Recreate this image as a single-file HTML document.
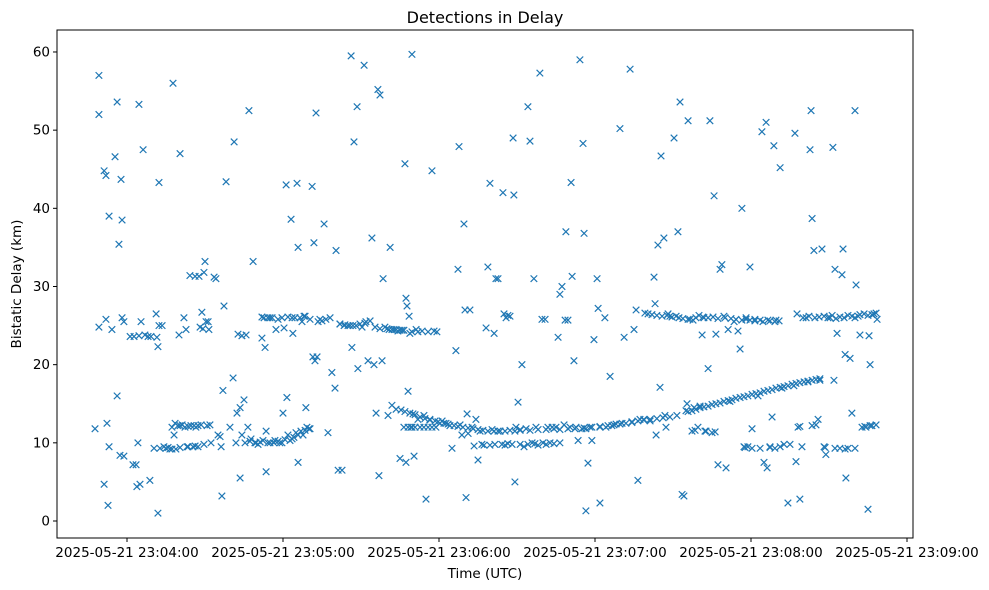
<!DOCTYPE html>
<html>
<head>
<meta charset="utf-8">
<style>
  html,body{margin:0;padding:0;background:#fff;}
  svg{display:block;font-family:"DejaVu Sans","Liberation Sans",sans-serif;}
</style>
</head>
<body>
<svg id="chart" width="989" height="590" viewBox="0 0 989 590" xmlns="http://www.w3.org/2000/svg">
  <rect x="0" y="0" width="989" height="590" fill="#fff"/>
  <text x="485" y="23" text-anchor="middle" font-size="16" fill="#000">Detections in Delay</text>
  <text x="485" y="578" text-anchor="middle" font-size="13.5" fill="#000">Time (UTC)</text>
  <text transform="translate(21,284) rotate(-90)" text-anchor="middle" font-size="13.5" fill="#000">Bistatic Delay (km)</text>
  <g id="marks"></g>
  <g id="axes"></g>
</svg>
<script>
// Times are seconds after 2025-05-21 23:04:00 UTC; delays in km.
const xTickSeconds = [0, 60, 120, 180, 240, 300];
const xTickLabels = ["2025-05-21 23:04:00","2025-05-21 23:05:00","2025-05-21 23:06:00","2025-05-21 23:07:00","2025-05-21 23:08:00","2025-05-21 23:09:00"];
const yTickValues = [0, 10, 20, 30, 40, 50, 60];
const yTickLabels = ["0","10","20","30","40","50","60"];

const scatterLeft = [[-12.3,11.8],[-10.8,57],[-10.8,52],[-10.8,24.8],[-8.8,4.7],[-8.8,44.8],[-8.1,44.2],[-8.1,25.8],[-7.7,12.5],[-7.3,2],[-6.9,39],[-6.9,9.5],[-5.8,24.5],[-4.6,46.6],[-3.8,53.6],[-3.8,16],[-3.1,35.4],[-2.7,8.4],[-2.3,43.7],[-1.9,38.5],[-1.9,26],[-1.2,25.5],[-1.2,8.3],[1.2,23.6],[2.3,7.2],[2.7,23.6],[3.5,7.2],[3.8,4.4],[4.2,10],[4.6,53.3],[4.6,23.7],[5,4.7],[5.4,25.5],[6.2,47.5],[6.9,23.8],[8.1,23.6],[8.8,5.2],[9.2,23.6],[10.4,9.3],[11.2,26.5],[11.5,23.5],[11.9,22.3],[11.9,1],[12.3,43.3],[12.3,25],[12.7,9.3],[13.5,25],[14.2,9.5],[15.8,9.4],[16.5,9.2],[17.3,12],[17.7,56],[18.1,11],[18.5,12.5],[18.8,9.2],[19.6,12.2],[20,23.8],[20.4,47],[21.2,12.3],[21.9,26],[22.3,12],[22.7,24.5],[23.5,9.5],[24.2,31.4],[24.6,12.2],[25.4,9.5],[26.2,31.3],[26.5,12],[27.3,9.5],[27.7,31.3],[28.1,24.8],[28.5,12.3],[28.8,26.7],[29.2,24.6],[29.6,9.8],[29.6,31.8],[30,33.2],[30.4,25.5],[30.8,12.2],[31.2,25.5],[31.5,24.5],[31.9,12.3],[32.3,10],[33.5,31.2],[34.2,31],[35,11],[35.8,10.8],[36.2,9.5],[36.5,3.2],[36.9,16.7],[37.3,27.5],[38.1,43.4],[39.6,12],[40.8,18.3],[41.2,48.5],[41.9,10],[42.3,13.8],[42.7,23.9],[43.5,14.5],[43.5,5.5],[44.2,23.7],[44.2,11],[45,15.5],[45.8,23.8],[46.5,12],[46.9,52.5],[47.7,10.5],[48.5,33.2],[49.2,10],[50.4,9.8]];
const scatterMid1 = [[51.9,23.4],[52.3,10.3],[52.7,26],[53.1,22.2],[53.5,6.3],[53.5,11.5],[54.2,26],[55,10],[55.8,26],[56.5,10],[57.3,24.5],[58.8,10],[60,13.8],[60.4,24.7],[61.2,43],[61.5,15.8],[61.9,11],[62.7,10.3],[63.1,38.6],[63.5,26],[63.8,24],[64.2,10.7],[65,11.3],[65.4,43.2],[65.8,35],[65.8,7.5],[66.5,26],[66.9,11.5],[67.3,25.5],[68.1,26.2],[68.8,14.5],[69.2,12],[70,11.8],[71.2,42.8],[71.5,21],[71.9,35.6],[72.3,20.5],[72.7,52.2],[73.1,21],[73.5,25.5],[74.2,25.8],[75.8,38],[76.5,25.8],[77.3,11.3],[78.1,26],[78.8,19],[80,17],[80.4,34.6],[81.2,6.5],[81.9,25.2],[82.7,6.5],[83.5,25],[85.8,25],[86.2,59.5],[86.5,22.2],[87.3,48.5],[88.1,25],[88.5,53],[88.8,19.5],[89.6,25.2],[90.4,24.8],[91.2,58.3],[91.9,25.5],[92.7,20.5],[93.5,25.6],[94.2,36.2],[95,20],[95.8,13.8],[96.5,55.2],[96.9,5.8],[97.3,54.5],[98.1,20.5],[98.5,31],[99.2,24.8],[100.4,13.5],[100.8,24.5],[101.2,35],[101.9,14.8],[102.7,24.5],[103.5,14.3],[104.2,24.3],[105,8],[105.4,14.2],[105.8,24.4],[106.5,12],[106.9,45.7],[107.3,28.5],[107.3,7.5],[107.7,27.5],[108.1,16.6],[108.5,26.2],[108.8,24],[109.2,12],[109.6,59.7],[110,13.7],[110.4,8.3],[110.8,12],[111.2,24.5],[111.9,13],[112.7,12],[113.5,24.3],[114.2,13.5],[115,2.8],[115.8,12],[116.5,13],[117.3,44.8],[118.1,24.3],[118.8,12]];
const scatterMid2 = [[120.4,12.5],[121.2,12.8],[122.7,12.5],[124.2,12.2],[125,9.3],[126.5,21.8],[127.3,32.2],[127.7,47.9],[128.1,12.3],[128.8,11],[129.6,38],[130,27],[130.4,3],[130.8,13.7],[131.2,11.2],[131.9,27],[132.7,12],[133.5,9.6],[134.2,13],[135,7.8],[135.8,11.5],[137.3,9.7],[138.1,24.7],[138.8,32.5],[139.6,43.2],[140.4,11.7],[141.2,24],[141.9,31],[142.7,31],[143.5,11.5],[144.2,9.8],[144.6,42],[145,26.5],[145.8,26],[146.5,26.3],[147.3,26.2],[148.1,9.8],[148.5,49],[148.8,41.7],[149.2,5],[149.6,12],[150.4,15.2],[151.2,11.6],[151.9,20],[152.7,9.5],[153.5,11.8],[154.2,53],[155,48.6],[155.8,10],[156.5,31],[157.3,12],[158.8,57.3],[159.6,25.8],[160,10],[160.8,25.8],[161.9,12],[162.7,10],[163.5,12],[165,12],[165.8,23.5],[166.5,29],[167.3,30],[168.1,12.3],[168.5,25.7],[168.8,37],[169.6,25.7],[170.4,12],[170.8,43.3],[171.2,31.3],[171.9,20.5],[172.7,12],[173.5,10.3],[174.2,59],[175,11.8],[175.4,48.3],[175.8,36.8],[176.5,1.3],[176.5,11.8],[177.3,7.4],[178.1,12],[178.8,10.3],[179.6,23.2]];
const scatterRight = [[180.8,31],[181.2,27.2],[181.9,2.3],[181.9,12],[183.8,26],[184.2,12],[185.8,18.5],[186.5,12.2],[188.1,12.4],[189.6,50.2],[190.4,12.5],[191.2,23.5],[193.5,57.8],[194.2,12.7],[195,24.5],[195.8,27],[196.5,5.2],[197.3,13],[198.8,13],[200.4,26.5],[201.2,12.8],[202.7,31.2],[203.1,27.8],[203.5,11],[204.2,35.3],[205,17.1],[205.4,46.7],[206.5,36.2],[206.9,13.5],[207.3,12],[208.1,26.5],[208.8,26.2],[210.4,49],[211.2,26.2],[211.9,37],[212.7,53.6],[213.5,3.4],[214.2,3.2],[215,14.1],[215.4,15],[215.8,51.2],[216.5,25.8],[217.3,11.5],[218.1,14.5],[218.8,26],[219.6,12],[220.4,14.7],[221.2,23.8],[221.9,26],[222.7,11.5],[223.5,19.5],[224.2,51.2],[225,11.3],[225.8,41.6],[226.5,23.9],[227.3,7.2],[228.1,32.2],[228.8,32.8],[229.6,26.2],[230.4,6.8],[231.2,24.5],[231.9,15.3],[233.5,25.5],[235,24.3],[235.8,22],[236.5,40],[237.3,9.5],[238.1,26],[238.8,9.5],[239.6,32.5],[240.4,11.8],[241.5,25.8],[242.7,16],[243.5,9.3],[244.2,49.8],[245,7.5],[245.8,51],[246.2,6.8],[246.5,25.7],[247.3,9.5],[248.1,13.3],[248.8,48],[249.6,25.7],[251.2,45.2],[251.9,17],[252.7,9.8],[254.2,2.3],[255,9.8],[256.5,17.3],[256.9,49.6],[257.3,7.6],[258.1,12],[258.8,2.8],[259.6,9.5],[261.2,26],[261.9,17.8],[262.7,47.5],[263.1,52.5],[263.5,38.7],[264.2,34.6],[265,12.3],[265.8,13],[266.5,18],[267.3,34.8],[268.1,9.5],[268.8,8.5],[270.4,26],[271.5,47.8],[271.9,18],[272.3,32.2],[273.1,24],[274.2,9.3],[275,31.5],[275.4,34.8],[276.2,21.3],[276.5,5.5],[277.3,9.3],[278.1,20.8],[278.8,13.8],[280,52.5],[280.4,30.2],[281.2,26.2],[281.9,23.8],[282.7,12],[284.2,12],[285,1.5],[285.4,23.7],[285.8,20],[286.5,12.2],[287.3,26.5],[288.1,12.3],[288.5,25.8]];
const trackNear12 = [[106.9,14],[108.8,13.8],[110.8,13.6],[112.7,13.3],[114.6,13.1],[116.5,12.9],[118.5,12.8],[119.6,12.7],[121.9,12.5],[123.5,12.4],[125.8,12.2],[127.3,12.1],[129.2,12],[131.2,11.9],[133.1,11.8],[135,11.7],[136.9,11.6],[138.8,11.5],[141.2,11.5],[142.7,11.5],[145.4,11.5],[147.3,11.6],[149.2,11.5],[151.2,11.7],[155,11.6],[158.1,11.7],[161.2,11.7],[164.2,11.8],[166.5,11.7],[169.6,11.8],[172.3,11.8],[175.8,11.9],[178.8,12],[181.9,12.1],[185,12.2],[187.3,12.3],[189.6,12.4],[191.9,12.5],[194.2,12.6],[196.5,12.8],[198.8,12.9],[201.2,13],[203.8,13.1],[206.2,13.2],[208.8,13.3],[211.5,13.5],[108.1,12],[109.6,12],[114.2,12],[117.3,12]];
const trackNear10 = [[136.5,9.8],[139.6,9.7],[141.5,9.8],[145.4,9.7],[146.5,9.9],[151.2,9.8],[154.2,9.8],[156.9,9.9],[158.1,9.7],[161.2,9.8],[164.2,9.9],[166.5,10],[45.4,10],[47.3,10.2],[49.6,10],[51.2,10.1],[54.2,10],[56.9,10.3],[58.1,10.2],[59.6,10],[60.8,10.4],[63.5,10.5],[65.8,11],[67.7,11],[68.5,11.6],[70.4,11.8],[15,9.3],[17.3,9.2],[20.4,9.4],[23.1,9.5],[26.2,9.6],[20.4,12.2],[23.5,12.1],[25.8,12.2],[27.3,12.2]];
const trackNear25 = [[81.9,25.2],[83.8,25.1],[85,25],[86.9,25],[91.5,25.3],[95.4,24.8],[97.3,24.6],[100,24.6],[101.9,24.5],[103.5,24.5],[105,24.4],[106.5,24.4],[109.6,24.2],[111.9,24.2],[115.8,24.2],[119.2,24.2],[51.9,26.1],[55,26],[58.1,25.8],[59.6,26],[61.9,26.1],[64.6,26],[68.5,26.2],[70.4,25.8],[75,25.6]];
const trackNear26 = [[199.2,26.6],[201.9,26.4],[203.8,26.3],[205.8,26.2],[207.7,26.3],[209.6,26.1],[212.3,26],[213.8,25.9],[215.8,25.8],[217.7,25.7],[220,26.3],[221.5,26.1],[223.5,26],[225.4,26.1],[227.3,25.9],[230,26],[232.3,25.9],[234.2,25.8],[236.5,25.7],[238.1,25.8],[239.6,25.7],[241.5,25.6],[243.5,25.7],[244.6,25.5],[247.3,25.6],[249.2,25.5],[250.8,25.6],[257.7,26.5],[260,26],[262.3,26.2],[264.6,26],[266.2,26.1],[268.1,26.2],[269.6,26],[271.2,26.3],[272.7,25.9],[274.2,26.1],[275.8,26],[277.3,26.3],[278.8,26.2],[280,26],[281.9,26.4],[283.5,26.5],[285,26.3],[286.5,26.4],[288.1,26.6]];
const risingTrack = [[215.8,14],[217.3,14.1],[218.8,14.3],[220.4,14.5],[221.9,14.6],[223.5,14.7],[225,14.9],[226.5,15],[228.1,15.1],[229.6,15.3],[231.2,15.4],[232.7,15.5],[234.2,15.7],[235.8,15.8],[237.3,15.9],[238.8,16],[240.4,16.2],[241.9,16.3],[243.5,16.4],[245,16.6],[246.5,16.7],[248.1,16.8],[249.6,17],[251.2,17.1],[252.7,17.2],[254.2,17.3],[255.8,17.5],[257.3,17.6],[258.8,17.7],[260.4,17.8],[261.9,17.9],[263.5,18],[265,18.1],[266.5,18.2]];
const lowRightTracks = [[218.5,11.6],[222.3,11.5],[226.2,11.4],[237.7,9.4],[240.4,9.3],[247.3,9.4],[249.2,9.3],[251.2,9.5],[268.5,9.4],[272.3,9.3],[276.2,9.2],[280,9.3],[258.8,12.1],[263.5,12.2],[283.8,12.1],[285.8,12.2]];

const allGroups = [scatterLeft, scatterMid1, scatterMid2, scatterRight, trackNear12, trackNear10, trackNear25, trackNear26, risingTrack, lowRightTracks];

const NS = "http://www.w3.org/2000/svg";
const plot = {left:57, top:30, right:913, bottom:538};
function xScale(s){ return 127 + s * 2.6; }
function yScale(v){ return 521 - v * 7.817; }

const marks = document.getElementById("marks");
const axes = document.getElementById("axes");
const color = "#1f77b4";
const r = 3.3;

allGroups.forEach(function(group){
  group.forEach(function(p){
    const cx = xScale(p[0]), cy = yScale(p[1]);
    const path = document.createElementNS(NS, "path");
    path.setAttribute("d", "M"+(cx-r)+","+(cy-r)+"L"+(cx+r)+","+(cy+r)+"M"+(cx-r)+","+(cy+r)+"L"+(cx+r)+","+(cy-r));
    path.setAttribute("stroke", color);
    path.setAttribute("stroke-width", "1.2");
    path.setAttribute("fill", "none");
    
    
    marks.appendChild(path);
  });
});

const frame = document.createElementNS(NS, "rect");
frame.setAttribute("x", plot.left);
frame.setAttribute("y", plot.top);
frame.setAttribute("width", plot.right - plot.left);
frame.setAttribute("height", plot.bottom - plot.top);
frame.setAttribute("fill", "none");
frame.setAttribute("stroke", "#000");
frame.setAttribute("stroke-width", "1");


axes.appendChild(frame);

yTickValues.forEach(function(v, i){
  const y = yScale(v);
  const t = document.createElementNS(NS, "line");
  t.setAttribute("x1", plot.left - 4); t.setAttribute("x2", plot.left);
  t.setAttribute("y1", y); t.setAttribute("y2", y);
  t.setAttribute("stroke", "#000");
  
  
  axes.appendChild(t);
  const lb = document.createElementNS(NS, "text");
  lb.setAttribute("x", plot.left - 7);
  lb.setAttribute("y", y + 4.5);
  lb.setAttribute("text-anchor", "end");
  lb.setAttribute("font-size", "13.5");
  lb.textContent = yTickLabels[i];
  
  
  axes.appendChild(lb);
});

xTickSeconds.forEach(function(s, i){
  const x = xScale(s);
  const t = document.createElementNS(NS, "line");
  t.setAttribute("x1", x); t.setAttribute("x2", x);
  t.setAttribute("y1", plot.bottom); t.setAttribute("y2", plot.bottom + 4);
  t.setAttribute("stroke", "#000");
  
  
  axes.appendChild(t);
  const lb = document.createElementNS(NS, "text");
  lb.setAttribute("x", x);
  lb.setAttribute("y", plot.bottom + 19);
  lb.setAttribute("text-anchor", "middle");
  lb.setAttribute("font-size", "13.5");
  lb.textContent = xTickLabels[i];
  
  
  axes.appendChild(lb);
});
</script>
</body>
</html>
